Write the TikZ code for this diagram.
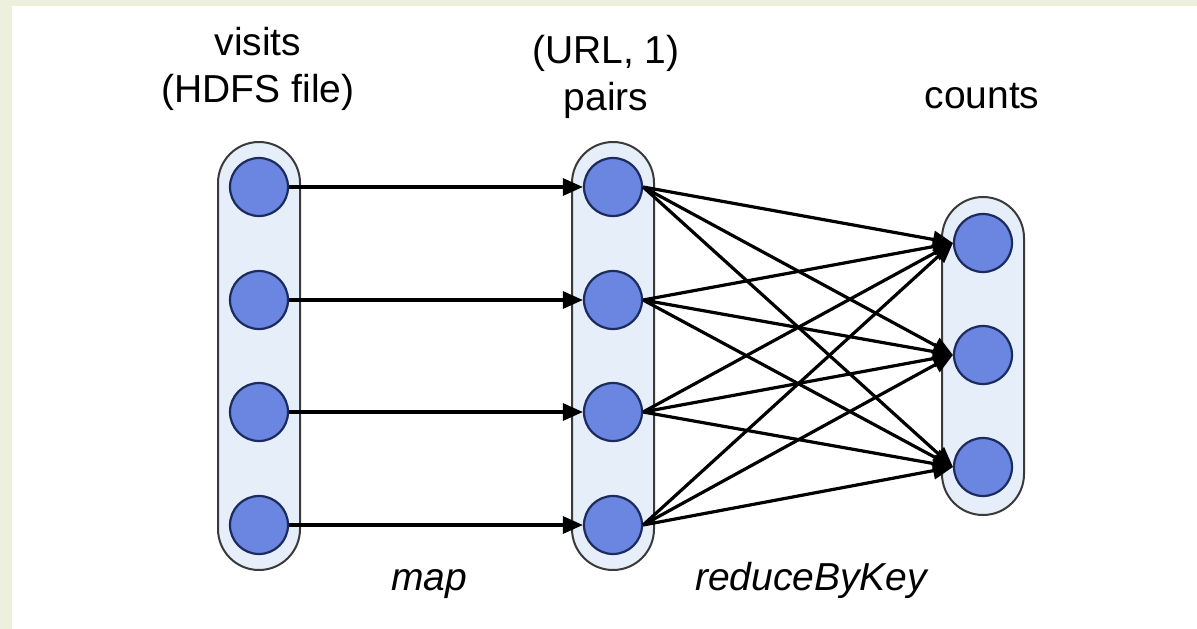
\documentclass[tikz,border=0pt]{standalone}
\usepackage{fontspec}
\setmainfont{Liberation Sans}
\usetikzlibrary{arrows.meta}
\definecolor{bgband}{HTML}{EDF0DC}
\definecolor{capfill}{HTML}{E6EEFA}
\definecolor{capline}{HTML}{3A3A3A}
\definecolor{dotfill}{HTML}{6B86E0}
\definecolor{dotline}{HTML}{1C2B5E}
\begin{document}
\begin{tikzpicture}[x=1pt,y=-1pt,
  capsule/.style={draw=capline, fill=capfill, line width=2pt, minimum width=82pt, rounded corners=41pt, inner sep=0pt},
  dot/.style={circle, draw=dotline, fill=dotfill, line width=2.2pt, minimum size=58pt, inner sep=0pt},
  arr/.style={line width=3.2pt, -{Triangle[length=20pt,width=17pt]}},
  lbl/.style={anchor=base, inner sep=0pt, font=\fontsize{39}{46}\selectfont},
  ilbl/.style={lbl, font=\fontsize{39}{46}\selectfont\itshape}]
\useasboundingbox (0,0) rectangle (1197,629);
\fill[bgband] (0,0) rectangle (1197,629);
\fill[white] (12,6) rectangle (1197,629);
% capsules
\node[capsule, minimum height=428pt] (lc) at (259,356) {};
\node[capsule, minimum height=428pt] (mc) at (613,356) {};
\node[capsule, minimum height=318pt] (rc) at (983,356) {};
% dots
\node[dot] (l1) at (259,187) {};
\node[dot] (l2) at (259,300) {};
\node[dot] (l3) at (259,412) {};
\node[dot] (l4) at (259,525) {};
\node[dot] (m1) at (613,187) {};
\node[dot] (m2) at (613,300) {};
\node[dot] (m3) at (613,412) {};
\node[dot] (m4) at (613,525) {};
\node[dot] (r1) at (983,243) {};
\node[dot] (r2) at (983,355) {};
\node[dot] (r3) at (983,467) {};
% map arrows
\foreach \i in {1,2,3,4} {\draw[arr] (l\i.east) -- (m\i.west);}
% reduce arrows
\foreach \i in {1,2,3,4} {\foreach \j in {1,2,3} {\draw[arr] (m\i.east) -- (r\j.west);}}
% labels
\node[lbl] (t1) at (258,55) {visits};
\node[lbl] (t2) at (258,102) {(HDFS file)};
\node[lbl] (t3) at (606,63) {(URL, 1)};
\node[lbl] (t4) at (606,110) {pairs};
\node[lbl] (t5) at (982,108) {counts};
\node[ilbl] (t6) at (429,590) {map};
\node[ilbl] (t7) at (811,590) {reduceByKey};
\end{tikzpicture}
\end{document}
